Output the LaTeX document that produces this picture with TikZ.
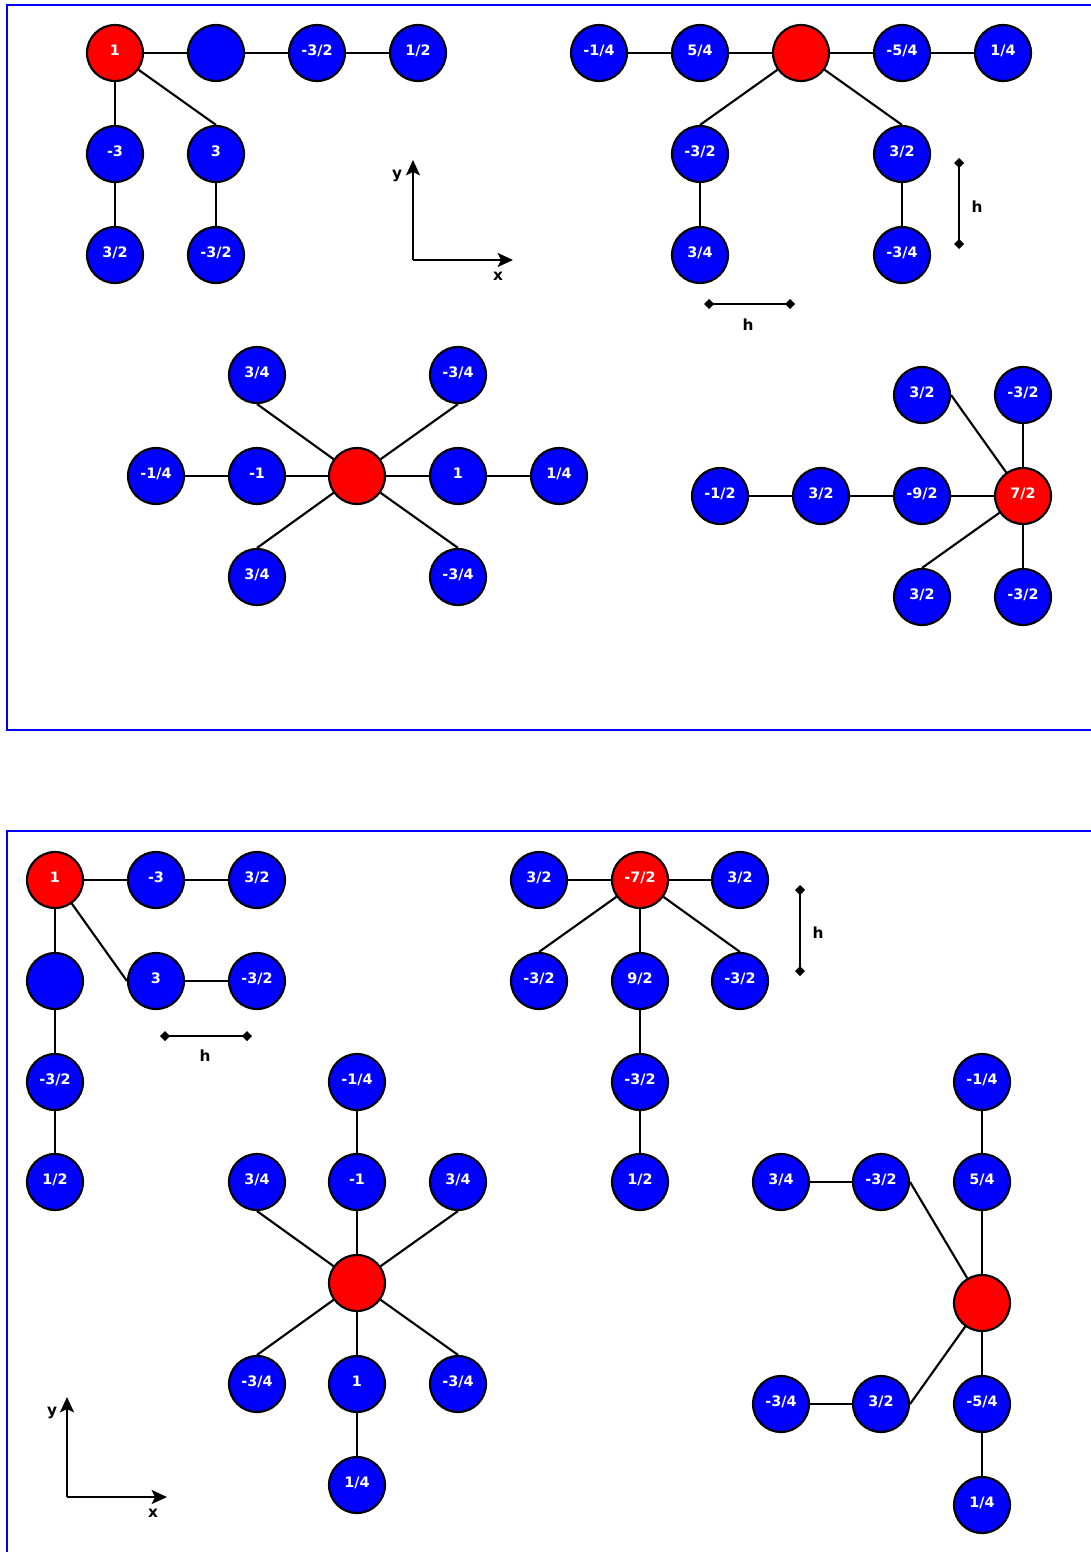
\documentclass[tikz,border=0pt]{standalone}
\usepackage{fontspec}
\setmainfont{DejaVu Sans}
\usetikzlibrary{arrows.meta}
\definecolor{nodeblue}{RGB}{0,0,255}
\definecolor{nodered}{RGB}{255,0,0}
\begin{document}
\begin{tikzpicture}[x=0.75pt,y=-0.75pt,
  vtx/.style={circle,draw=black,line width=1.6pt,minimum size=42pt,inner sep=0pt,
    fill=nodeblue,text=white,font=\fontsize{10.8}{12}\selectfont\bfseries,
    text height=0.75em,text depth=0.42em},
  root/.style={vtx,fill=nodered},
  edge/.style={line width=1.6pt,black},
  frame/.style={line width=1.6pt,nodeblue},
  axis/.style={line width=1.7pt,-{Stealth[length=11.5pt,width=10.5pt,inset=2.5pt]}},
  hbar/.style={line width=1.6pt,{Diamond[length=7.5pt,width=7.5pt]}-{Diamond[length=7.5pt,width=7.5pt]}},
  lbl/.style={font=\fontsize{11.5}{13}\selectfont\bfseries,inner sep=0pt}]
\useasboundingbox (0,0) rectangle (1091,1552);
% frames
\draw[frame] (1091,5) -- (7,5) -- (7,730) -- (1091,730);
\draw[frame] (1091,831) -- (7,831) -- (7,1552);

% ---------- Tree A ----------
\node[root] (A1) at (115,53) {1};
\node[vtx] (A2) at (216,53) {};
\node[vtx] (A3) at (317,53) {-3/2};
\node[vtx] (A4) at (418,53) {1/2};
\node[vtx] (A5) at (115,154) {-3};
\node[vtx] (A6) at (216,154) {3};
\node[vtx] (A7) at (115,255) {3/2};
\node[vtx] (A8) at (216,255) {-3/2};
\draw[edge] (A1) -- (A2);
\draw[edge] (A2) -- (A3);
\draw[edge] (A3) -- (A4);
\draw[edge] (A1) -- (A5);
\draw[edge] (A1) -- (A6.north);
\draw[edge] (A5) -- (A7);
\draw[edge] (A6) -- (A8);

% axes 1
\coordinate (O1) at (413,260);
\coordinate (Y1) at (413,160);
\coordinate (X1) at (513,260);
\draw[axis] (O1) -- (Y1);
\draw[axis] (O1) -- (X1);
\node[lbl] (ylab1) at (397,176) {y};
\node[lbl] (xlab1) at (498,276) {x};

% ---------- Tree B ----------
\node[vtx] (B1) at (599,53) {-1/4};
\node[vtx] (B2) at (700,53) {5/4};
\node[root] (B3) at (801,53) {};
\node[vtx] (B4) at (902,53) {-5/4};
\node[vtx] (B5) at (1003,53) {1/4};
\node[vtx] (B6) at (700,154) {-3/2};
\node[vtx] (B7) at (902,154) {3/2};
\node[vtx] (B8) at (700,255) {3/4};
\node[vtx] (B9) at (902,255) {-3/4};
\draw[edge] (B1) -- (B2);
\draw[edge] (B2) -- (B3);
\draw[edge] (B3) -- (B4);
\draw[edge] (B4) -- (B5);
\draw[edge] (B3) -- (B6.north);
\draw[edge] (B3) -- (B7.north);
\draw[edge] (B6) -- (B8);
\draw[edge] (B7) -- (B9);

% h markers top
\coordinate (hv1a) at (959,158);
\coordinate (hv1b) at (959,249);
\draw[hbar] (hv1a) -- (hv1b);
\node[lbl] (hv1) at (977,207) {h};
\coordinate (hh1a) at (704,304);
\coordinate (hh1b) at (795,304);
\draw[hbar] (hh1a) -- (hh1b);
\node[lbl] (hh1) at (748,325) {h};

% ---------- Star C ----------
\node[root] (C0) at (357,476) {};
\node[vtx] (C1) at (257,375) {3/4};
\node[vtx] (C2) at (458,375) {-3/4};
\node[vtx] (C3) at (156,476) {-1/4};
\node[vtx] (C4) at (257,476) {-1};
\node[vtx] (C5) at (458,476) {1};
\node[vtx] (C6) at (559,476) {1/4};
\node[vtx] (C7) at (257,577) {3/4};
\node[vtx] (C8) at (458,577) {-3/4};
\draw[edge] (C0) -- (C1.south);
\draw[edge] (C0) -- (C2.south);
\draw[edge] (C3) -- (C4);
\draw[edge] (C4) -- (C0);
\draw[edge] (C0) -- (C5);
\draw[edge] (C5) -- (C6);
\draw[edge] (C0) -- (C7.north);
\draw[edge] (C0) -- (C8.north);

% ---------- Tree D ----------
\node[vtx] (D1) at (720,496) {-1/2};
\node[vtx] (D2) at (821,496) {3/2};
\node[vtx] (D3) at (922,496) {-9/2};
\node[root] (D4) at (1023,496) {7/2};
\node[vtx] (D5) at (922,395) {3/2};
\node[vtx] (D6) at (1023,395) {-3/2};
\node[vtx] (D7) at (922,597) {3/2};
\node[vtx] (D8) at (1023,597) {-3/2};
\draw[edge] (D1) -- (D2);
\draw[edge] (D2) -- (D3);
\draw[edge] (D3) -- (D4);
\draw[edge] (D5.east) -- (D4);
\draw[edge] (D6) -- (D4);
\draw[edge] (D7.north) -- (D4);
\draw[edge] (D4) -- (D8);

% ---------- Tree E ----------
\node[root] (E1) at (55,880) {1};
\node[vtx] (E2) at (156,880) {-3};
\node[vtx] (E3) at (257,880) {3/2};
\node[vtx] (E4) at (55,981) {};
\node[vtx] (E5) at (156,981) {3};
\node[vtx] (E6) at (257,981) {-3/2};
\node[vtx] (E7) at (55,1082) {-3/2};
\node[vtx] (E8) at (55,1182) {1/2};
\draw[edge] (E1) -- (E2);
\draw[edge] (E2) -- (E3);
\draw[edge] (E1) -- (E4);
\draw[edge] (E1) -- (E5.west);
\draw[edge] (E5) -- (E6);
\draw[edge] (E4) -- (E7);
\draw[edge] (E7) -- (E8);
\coordinate (hh2a) at (160,1036);
\coordinate (hh2b) at (252,1036);
\draw[hbar] (hh2a) -- (hh2b);
\node[lbl] (hh2) at (205,1056) {h};

% ---------- Tree F ----------
\node[vtx] (F1) at (539,880) {3/2};
\node[root] (F2) at (640,880) {-7/2};
\node[vtx] (F3) at (740,880) {3/2};
\node[vtx] (F4) at (539,981) {-3/2};
\node[vtx] (F5) at (640,981) {9/2};
\node[vtx] (F6) at (740,981) {-3/2};
\node[vtx] (F7) at (640,1082) {-3/2};
\node[vtx] (F8) at (640,1182) {1/2};
\draw[edge] (F1) -- (F2);
\draw[edge] (F2) -- (F3);
\draw[edge] (F2) -- (F4.north);
\draw[edge] (F2) -- (F5);
\draw[edge] (F2) -- (F6.north);
\draw[edge] (F5) -- (F7);
\draw[edge] (F7) -- (F8);
\coordinate (hv2a) at (800,885);
\coordinate (hv2b) at (800,976);
\draw[hbar] (hv2a) -- (hv2b);
\node[lbl] (hv2) at (818,933) {h};

% ---------- Star G ----------
\node[root] (G0) at (357,1283) {};
\node[vtx] (G1) at (357,1082) {-1/4};
\node[vtx] (G2) at (257,1182) {3/4};
\node[vtx] (G3) at (357,1182) {-1};
\node[vtx] (G4) at (458,1182) {3/4};
\node[vtx] (G5) at (257,1384) {-3/4};
\node[vtx] (G6) at (357,1384) {1};
\node[vtx] (G7) at (458,1384) {-3/4};
\node[vtx] (G8) at (357,1485) {1/4};
\draw[edge] (G1) -- (G3);
\draw[edge] (G3) -- (G0);
\draw[edge] (G0) -- (G2.south);
\draw[edge] (G0) -- (G4.south);
\draw[edge] (G0) -- (G5.north);
\draw[edge] (G0) -- (G6);
\draw[edge] (G0) -- (G7.north);
\draw[edge] (G6) -- (G8);

% ---------- Tree H ----------
\node[vtx] (H1) at (982,1082) {-1/4};
\node[vtx] (H2) at (982,1182) {5/4};
\node[root] (H3) at (982,1303) {};
\node[vtx] (H4) at (982,1404) {-5/4};
\node[vtx] (H5) at (982,1505) {1/4};
\node[vtx] (H6) at (781,1182) {3/4};
\node[vtx] (H7) at (881,1182) {-3/2};
\node[vtx] (H8) at (781,1404) {-3/4};
\node[vtx] (H9) at (881,1404) {3/2};
\draw[edge] (H1) -- (H2);
\draw[edge] (H2) -- (H3);
\draw[edge] (H3) -- (H4);
\draw[edge] (H4) -- (H5);
\draw[edge] (H6) -- (H7);
\draw[edge] (H7.east) -- (H3);
\draw[edge] (H8) -- (H9);
\draw[edge] (H9.east) -- (H3);

% axes 2
\coordinate (O2) at (67,1497);
\coordinate (Y2) at (67,1397);
\coordinate (X2) at (167,1497);
\draw[axis] (O2) -- (Y2);
\draw[axis] (O2) -- (X2);
\node[lbl] (ylab2) at (52,1413) {y};
\node[lbl] (xlab2) at (153,1513) {x};
\end{tikzpicture}
\end{document}
